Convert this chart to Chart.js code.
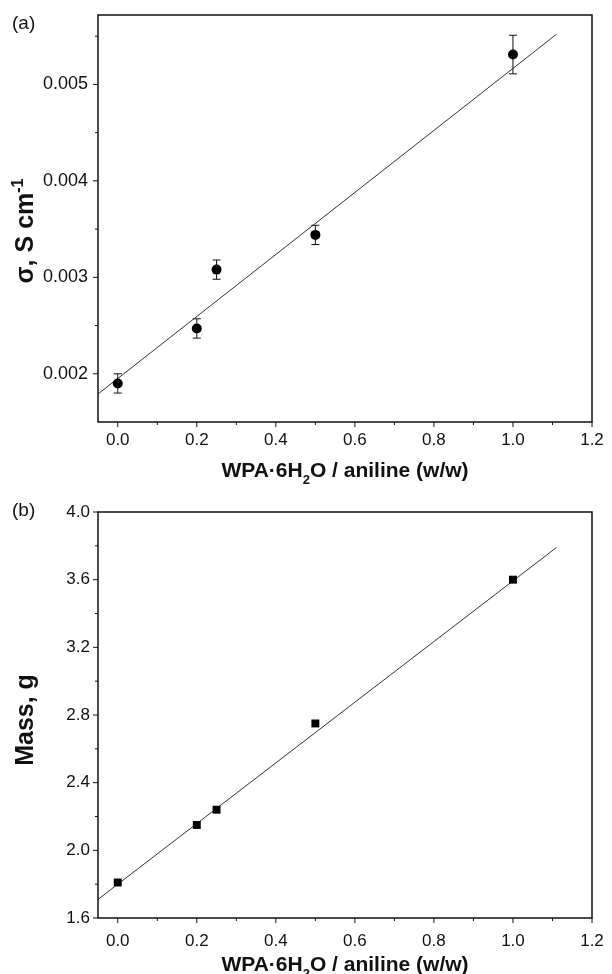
<!DOCTYPE html>
<html>
<head>
<meta charset="utf-8">
<script src="https://cdn.jsdelivr.net/npm/chart.js@4.4.1/dist/chart.umd.min.js"></script>
<style>
    html, body { margin: 0; padding: 0; background: #fff; }
    #wrap { position: relative; width: 612px; height: 974px; }
    canvas { position: absolute; left: 0; }
</style>
</head>
<body>
<div id="wrap">
    <canvas id="chartA" width="612" height="487" style="top:0"></canvas>
    <canvas id="chartB" width="612" height="487" style="top:487px"></canvas>
</div>
<script>
// ratio WPA·6H2O / aniline (w/w)
const ratio = [0, 0.2, 0.25, 0.5, 1.0];

// (a) conductivity, S cm-1
const conductivity = [0.00190, 0.00247, 0.00308, 0.00344, 0.00531];
const conductivityErr = [0.00010, 0.00010, 0.00010, 0.00010, 0.00020];
const condFitX = [-0.05, 1.11];
const condFitY = [0.00179, 0.00552];

// (b) mass, g
const mass = [1.81, 2.15, 2.24, 2.75, 3.60];
const massFitX = [-0.05, 1.11];
const massFitY = [1.71, 3.79];

// ticks
const xTicks = [0, 0.2, 0.4, 0.6, 0.8, 1.0, 1.2];
const xMinor = [0.1, 0.3, 0.5, 0.7, 0.9, 1.1];
const condTicks = [0.002, 0.003, 0.004, 0.005];
const condMinor = [0.0025, 0.0035, 0.0045, 0.0055];
const massTicks = [1.6, 2.0, 2.4, 2.8, 3.2, 3.6, 4.0];
const massMinor = [1.8, 2.2, 2.6, 3.0, 3.4, 3.8];

const FONT = '"Liberation Sans", Arial, sans-serif';
const INK = "#111";

// draws text pieces with sub/superscripts, centred on x
function drawRich(ctx, parts, x, y, size) {
    const fontOf = (p) => "bold " + (p.sub || p.sup ? Math.round(size * 0.62) : size) + "px " + FONT;
    let total = 0;
    parts.forEach((p) => {
        ctx.font = fontOf(p);
        total += ctx.measureText(p.t).width;
    });
    let cx = x - total / 2;
    ctx.textAlign = "left";
    ctx.textBaseline = "alphabetic";
    parts.forEach((p) => {
        ctx.font = fontOf(p);
        let dy = 0;
        if (p.sub) dy = size * 0.32;
        if (p.sup) dy = -size * 0.42;
        ctx.fillText(p.t, cx, y + dy);
        cx += ctx.measureText(p.t).width;
    });
}

const axesPlugin = {
    id: "axesPlugin",
    afterDatasetsDraw(chart, args, opts) {
        const { ctx, chartArea: a, scales } = chart;
        const x = scales.x, y = scales.y;
        ctx.save();

        // error bars
        if (opts.errors) {
            ctx.strokeStyle = INK;
            ctx.lineWidth = 1;
            opts.errors.forEach((e, i) => {
                const px = x.getPixelForValue(opts.errX[i]);
                const top = y.getPixelForValue(opts.errY[i] + e);
                const bot = y.getPixelForValue(opts.errY[i] - e);
                ctx.beginPath();
                ctx.moveTo(px, top); ctx.lineTo(px, bot);
                ctx.moveTo(px - 4, top); ctx.lineTo(px + 4, top);
                ctx.moveTo(px - 4, bot); ctx.lineTo(px + 4, bot);
                ctx.stroke();
            });
        }

        // frame
        ctx.strokeStyle = INK;
        ctx.lineWidth = 1.5;
        ctx.strokeRect(a.left, a.top, a.right - a.left, a.bottom - a.top);

        // tick marks (outward)
        ctx.lineWidth = 1;
        ctx.beginPath();
        const xt = (v, len) => {
            const p = x.getPixelForValue(v);
            ctx.moveTo(p, a.bottom); ctx.lineTo(p, a.bottom + len);
        };
        const yt = (v, len) => {
            const p = y.getPixelForValue(v);
            ctx.moveTo(a.left, p); ctx.lineTo(a.left - len, p);
        };
        xTicks.forEach((v) => xt(v, 5));
        xMinor.forEach((v) => xt(v, 3));
        opts.yMajor.forEach((v) => yt(v, 5));
        opts.yMinor.forEach((v) => yt(v, 3));
        ctx.stroke();

        // titles
        ctx.fillStyle = INK;
        const midX = (a.left + a.right) / 2;
        drawRich(ctx, [{ t: "WPA·6H" }, { t: "2", sub: true }, { t: "O / aniline (w/w)" }], midX, opts.xTitleY, 21);

        ctx.save();
        ctx.translate(opts.yTitleX, opts.yTitleY);
        ctx.rotate(-Math.PI / 2);
        drawRich(ctx, opts.yTitle, 0, 0, 25);
        ctx.restore();

        ctx.font = "19px " + FONT;
        ctx.textAlign = "left";
        ctx.fillText(opts.panel, 12, 29);
        ctx.restore();
    },
};

function makeChart(id, cfg) {
    return new Chart(document.getElementById(id).getContext("2d"), {
        type: "scatter",
        data: {
            datasets: [
                {
                    data: ratio.map((v, i) => ({ x: v, y: cfg.values[i] })),
                    pointStyle: cfg.pointStyle,
                    pointRadius: cfg.radius,
                    backgroundColor: "#000",
                    borderColor: "#000",
                    borderWidth: 0,
                },
                {
                    type: "line",
                    data: cfg.fitX.map((v, i) => ({ x: v, y: cfg.fitY[i] })),
                    borderColor: "#333",
                    borderWidth: 1,
                    pointRadius: 0,
                    fill: false,
                },
            ],
        },
        options: {
            responsive: false,
            animation: false,
            layout: { padding: { top: cfg.top, right: 20, left: 0, bottom: 0 } },
            plugins: {
                legend: { display: false },
                tooltip: { enabled: false },
                axesPlugin: cfg.plugin,
            },
            scales: {
                x: {
                    type: "linear",
                    min: -0.05,
                    max: 1.2,
                    grid: { display: false, drawTicks: false },
                    border: { display: false },
                    afterBuildTicks: (s) => { s.ticks = xTicks.map((v) => ({ value: v })); },
                    afterFit: (s) => { s.height = cfg.xHeight; s.paddingLeft = 0; s.paddingRight = 0; },
                    ticks: {
                        padding: cfg.xPad,
                        color: INK,
                        font: { family: FONT, size: 17 },
                        maxRotation: 0,
                        autoSkip: false,
                        callback: (v) => Number(v).toFixed(1),
                    },
                },
                y: {
                    type: "linear",
                    min: cfg.yMin,
                    max: cfg.yMax,
                    grid: { display: false, drawTicks: false },
                    border: { display: false },
                    afterBuildTicks: (s) => { s.ticks = cfg.yMajor.map((v) => ({ value: v })); },
                    afterFit: (s) => { s.width = 98; s.paddingTop = 0; s.paddingBottom = 0; },
                    ticks: {
                        padding: cfg.yPad,
                        color: INK,
                        font: { family: FONT, size: cfg.yFont },
                        autoSkip: false,
                        callback: (v) => Number(v).toFixed(cfg.decimals),
                    },
                },
            },
        },
        plugins: [axesPlugin],
    });
}

makeChart("chartA", {
    values: conductivity,
    fitX: condFitX,
    fitY: condFitY,
    pointStyle: "circle",
    radius: 5,
    top: 15,
    xHeight: 65,
    xPad: 8,
    yPad: 10,
    yFont: 18,
    yMin: 0.0015,
    yMax: 0.00572,
    yMajor: condTicks,
    decimals: 3,
    plugin: {
        errors: conductivityErr,
        errX: ratio,
        errY: conductivity,
        yMajor: condTicks,
        yMinor: condMinor,
        xTitleY: 477,
        yTitleX: 33,
        yTitleY: 231,
        yTitle: [{ t: "σ, S cm" }, { t: "-1", sup: true }],
        panel: "(a)",
    },
});

makeChart("chartB", {
    values: mass,
    fitX: massFitX,
    fitY: massFitY,
    pointStyle: "rect",
    radius: 5.6,
    top: 25,
    xHeight: 56,
    xPad: 13,
    yPad: 8,
    yFont: 17,
    yMin: 1.6,
    yMax: 4.0,
    yMajor: massTicks,
    decimals: 1,
    plugin: {
        yMajor: massTicks,
        yMinor: massMinor,
        xTitleY: 484,
        yTitleX: 33,
        yTitleY: 233,
        yTitle: [{ t: "Mass, g" }],
        panel: "(b)",
    },
});
</script>
</body>
</html>
